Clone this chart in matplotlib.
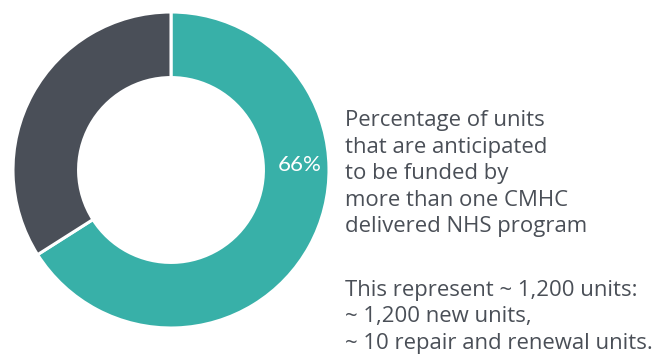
import matplotlib.pyplot as plt

# share of units funded by more than one program
labels = ['More than one program', 'Single program']
shares = [66, 34]
colors = ['#38b0a8', '#4a4f58']

caption = ['Percentage of units',
           'that are anticipated',
           'to be funded by',
           'more than one CMHC',
           'delivered NHS program']
detail = ['This represent ~ 1,200 units:',
          '~ 1,200 new units,',
          '~ 10 repair and renewal units.']

W, H = 669, 362
fig = plt.figure(figsize=(W / 100, H / 100), dpi=100)

# donut centred at (171, 170) px, outer radius 158 px
cx, cy, r_px = 171, 170, 158
half = 162
ax = fig.add_axes([(cx - half) / W, (H - cy - half) / H, 2 * half / W, 2 * half / H])
lim = half / r_px
ax.set_aspect('equal')
ax.axis('off')

ring = 0.415
ax.pie(shares, colors=colors, startangle=90, counterclock=False, radius=1,
       wedgeprops=dict(width=ring, edgecolor='white', linewidth=2.2))
ax.set_xlim(-lim, lim)
ax.set_ylim(-lim, lim)

ax.text(1 - ring / 2 + 0.02, 0.03, f'{shares[0]}%', color='white', fontsize=16,
        family='Lato', ha='center', va='center')

text_color = '#4a4f57'
for i, line in enumerate(caption):
    fig.text(345 / W, 1 - (126 + i * 26.5) / H, line, color=text_color,
             fontsize=15.9, family='Open Sans', va='baseline', ha='left')
for i, line in enumerate(detail):
    fig.text(345 / W, 1 - (296 + i * 26.3) / H, line, color=text_color,
             fontsize=15.9, family='Open Sans', va='baseline', ha='left')

fig.savefig('out.png', dpi=100)
